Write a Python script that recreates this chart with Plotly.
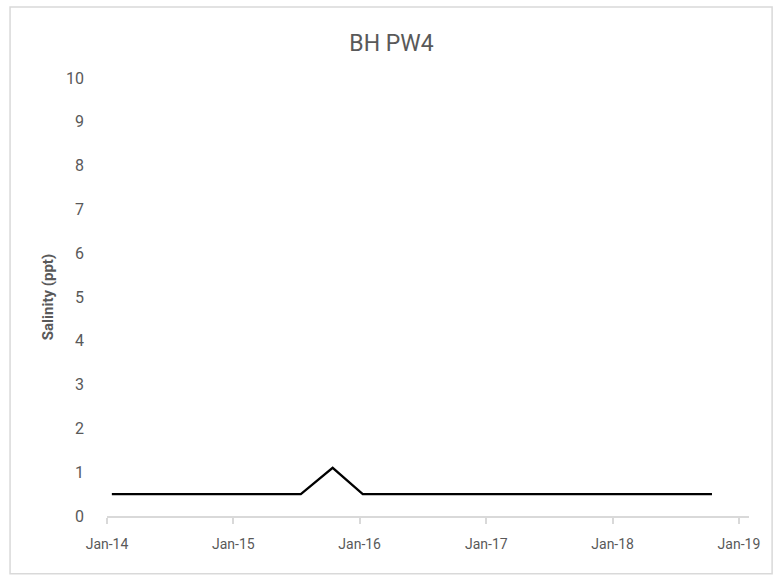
import plotly.graph_objects as go

# sample dates and salinity readings (ppt)
dates = ["2014-01-15", "2015-07-15", "2015-10-15", "2016-01-10", "2018-10-15"]
salinity = [0.5, 0.5, 1.1, 0.5, 0.5]

x_ticks = ["2014-01-01", "2015-01-01", "2016-01-01", "2017-01-01", "2018-01-01", "2019-01-01"]
x_labels = ["Jan-14", "Jan-15", "Jan-16", "Jan-17", "Jan-18", "Jan-19"]

FONT = "Roboto, Arial"
GREY = "#595959"

# plot area in pixels: x 107..749, y 78..516
fig = go.Figure()
fig.add_trace(go.Scatter(
    x=dates, y=salinity, mode="lines",
    line=dict(color="black", width=2.25),
    showlegend=False,
))

fig.update_layout(
    width=783, height=577,
    paper_bgcolor="white", plot_bgcolor="white",
    margin=dict(l=107, r=34, t=78, b=61, autoexpand=False),
    font=dict(family=FONT, color=GREY, size=14),
    title=dict(text="BH PW4", x=0.5, xanchor="center", y=0.925, yanchor="middle",
               font=dict(size=23, color=GREY, family=FONT)),
    xaxis=dict(
        type="date", range=["2014-01-01", "2019-01-30"],
        tickvals=x_ticks, ticktext=x_labels, automargin=False,
        showgrid=False, zeroline=False,
        showline=True, linecolor="#d9d9d9", linewidth=1.5,
        ticks="outside", ticklen=6, tickcolor="#d9d9d9", tickwidth=1.5,
        ticklabelstandoff=8,
        tickfont=dict(size=14, color=GREY),
    ),
    yaxis=dict(
        range=[0, 10], dtick=1, automargin=False,
        showgrid=False, zeroline=False, showline=False,
        ticks="", ticklabelstandoff=22,
        tickfont=dict(size=16, color=GREY),
        title=dict(text="<b>Salinity (ppt)</b>", standoff=8,
                   font=dict(size=15, color=GREY)),
    ),
    shapes=[dict(type="rect", xref="paper", yref="paper",
                 x0=-0.151, x1=1.036, y0=-0.132, y1=1.162,
                 line=dict(color="#d9d9d9", width=1.5))],
)

# drop the default page margin so the figure sits at the window corner
fig.write_html("out.html", config={"displayModeBar": False},
               post_script="document.body.style.margin='0';")
